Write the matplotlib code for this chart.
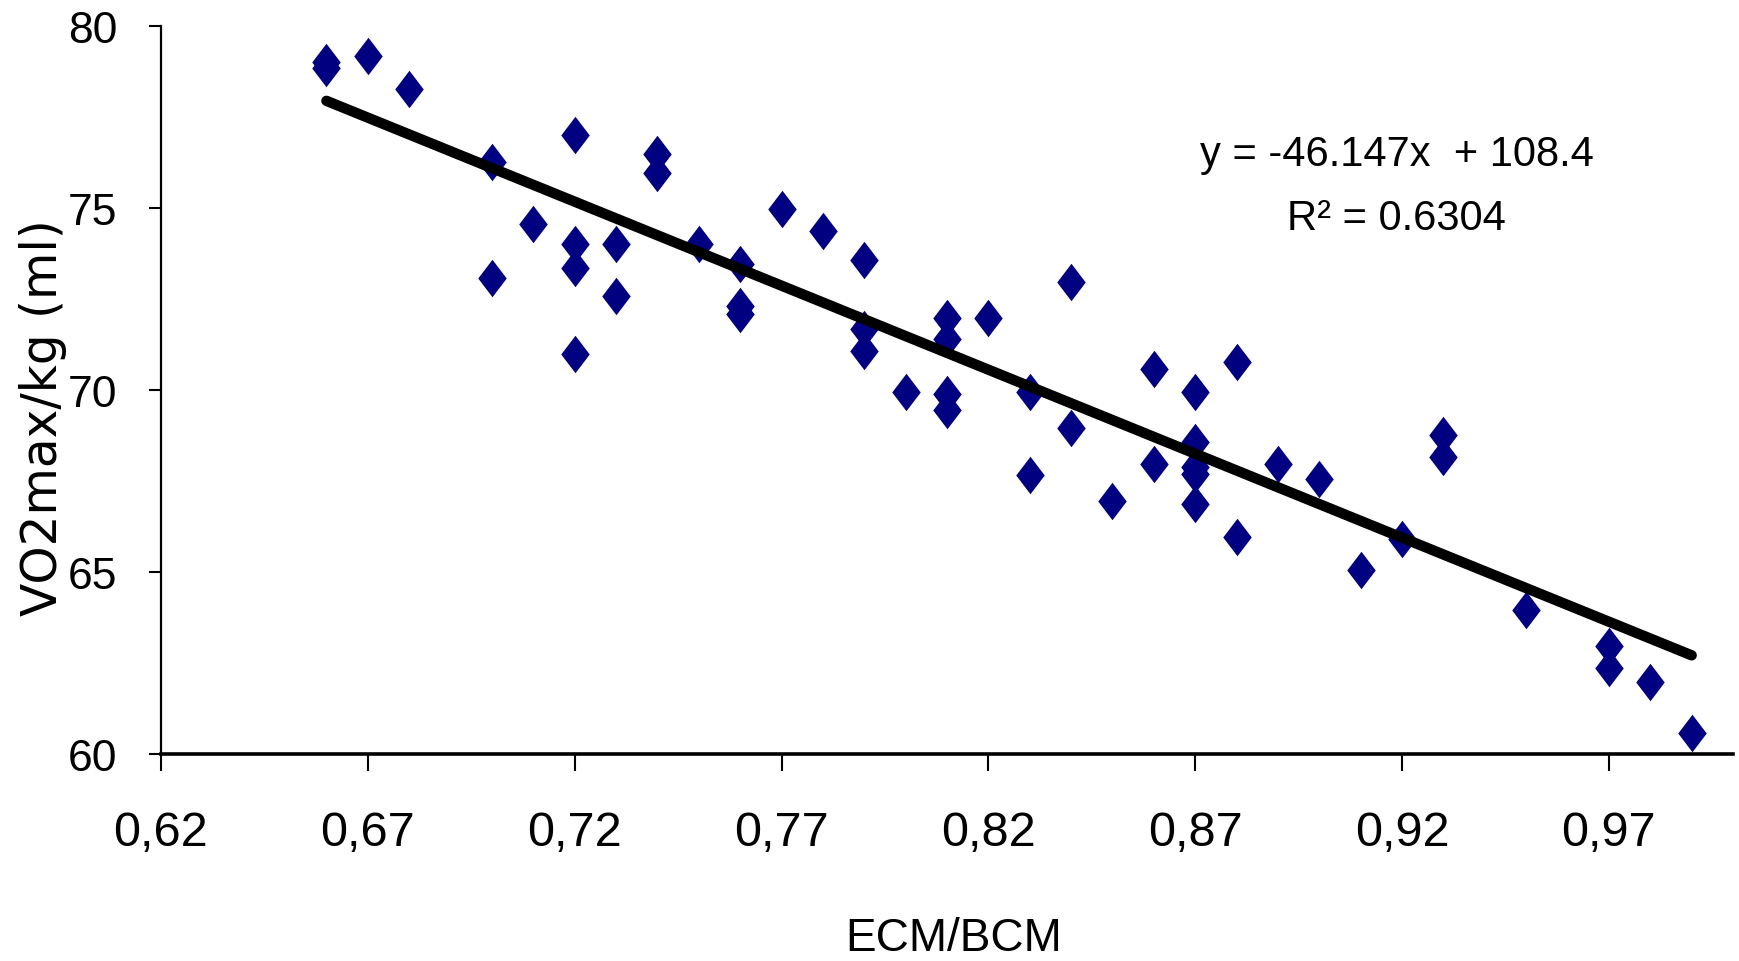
import matplotlib
matplotlib.use("Agg")
import matplotlib.pyplot as plt
import numpy as np

plt.rcParams['font.family'] = ['Liberation Sans', 'DejaVu Sans']

# ECM/BCM ratio vs VO2max per kg
ecm_bcm = [0.66, 0.66, 0.67, 0.68, 0.70, 0.70, 0.71,
           0.72, 0.72, 0.72, 0.72, 0.73, 0.73, 0.74, 0.74, 0.75,
           0.76, 0.76, 0.76, 0.77, 0.78, 0.79, 0.79, 0.79, 0.80,
           0.81, 0.81, 0.81, 0.81, 0.82, 0.83, 0.83, 0.84, 0.84,
           0.85, 0.86, 0.86, 0.87, 0.87, 0.87, 0.87, 0.87,
           0.88, 0.88, 0.89, 0.90, 0.91, 0.92, 0.93, 0.93,
           0.95, 0.97, 0.97, 0.98, 0.99]
vo2 = [79.0, 78.85, 79.17, 78.28, 76.26, 73.07, 74.57,
       77.0, 74.0, 73.36, 70.98, 74.0, 72.57, 76.47, 75.95, 74.0,
       73.47, 72.3, 72.08, 74.96, 74.37, 73.56, 71.67, 71.06, 69.96,
       71.97, 71.39, 69.88, 69.45, 71.98, 69.96, 67.66, 72.97, 68.95,
       66.96, 70.57, 67.96, 69.96, 68.56, 67.9, 67.7, 66.88,
       70.77, 65.97, 67.96, 67.57, 65.06, 65.92, 68.77, 68.15,
       63.95, 62.97, 62.36, 61.97, 60.57]

slope = -46.147
intercept = 108.4
r2 = 0.6304

xticks = [0.62, 0.67, 0.72, 0.77, 0.82, 0.87, 0.92, 0.97]
yticks = [60, 65, 70, 75, 80]

fig = plt.figure(figsize=(17.4, 9.62), dpi=100)
ax = fig.add_axes([0.0925, 0.215, 0.9035, 0.757])

diamond = [(0, 1), (0.76, 0), (0, -1), (-0.76, 0), (0, 1)]
ax.plot(ecm_bcm, vo2, linestyle='none', marker=diamond, markersize=27,
        color='#000080', markeredgewidth=0, zorder=2)

xs = np.array([min(ecm_bcm), max(ecm_bcm)])
ax.plot(xs, slope * xs + intercept, color='black', linewidth=7.5,
        solid_capstyle='round', zorder=3)

ax.set_xlim(0.62, 1.0)
ax.set_ylim(60, 80)
ax.set_xticks(xticks)
ax.set_xticklabels([f"{t:.2f}".replace('.', ',') for t in xticks])
ax.set_yticks(yticks)

ax.spines['top'].set_visible(False)
ax.spines['right'].set_visible(False)
ax.spines['bottom'].set_linewidth(2.6)
ax.spines['left'].set_linewidth(1.6)
ax.tick_params(axis='x', length=12, width=1.5, pad=28, labelsize=35)
ax.tick_params(axis='y', length=8.5, width=1.5, pad=23, labelsize=32)

ax.set_xlabel('ECM/BCM', fontsize=33)
ax.xaxis.set_label_coords(0.504, -0.222)
ax.xaxis.label.set_va('top')
ax.set_ylabel('VO2max/kg (ml)', fontsize=35, family=['DejaVu Sans'])
ax.yaxis.set_label_coords(-0.075, 0.463)
ax.yaxis.label.set_va('center')

ax.text(0.786, 0.824, f"y = {slope}x  + {intercept}", transform=ax.transAxes,
        ha='center', va='center', fontsize=30)
ax.text(0.786, 0.736, f"R² = {r2}", transform=ax.transAxes,
        ha='center', va='center', fontsize=30)

fig.savefig('out.png', dpi=100)
